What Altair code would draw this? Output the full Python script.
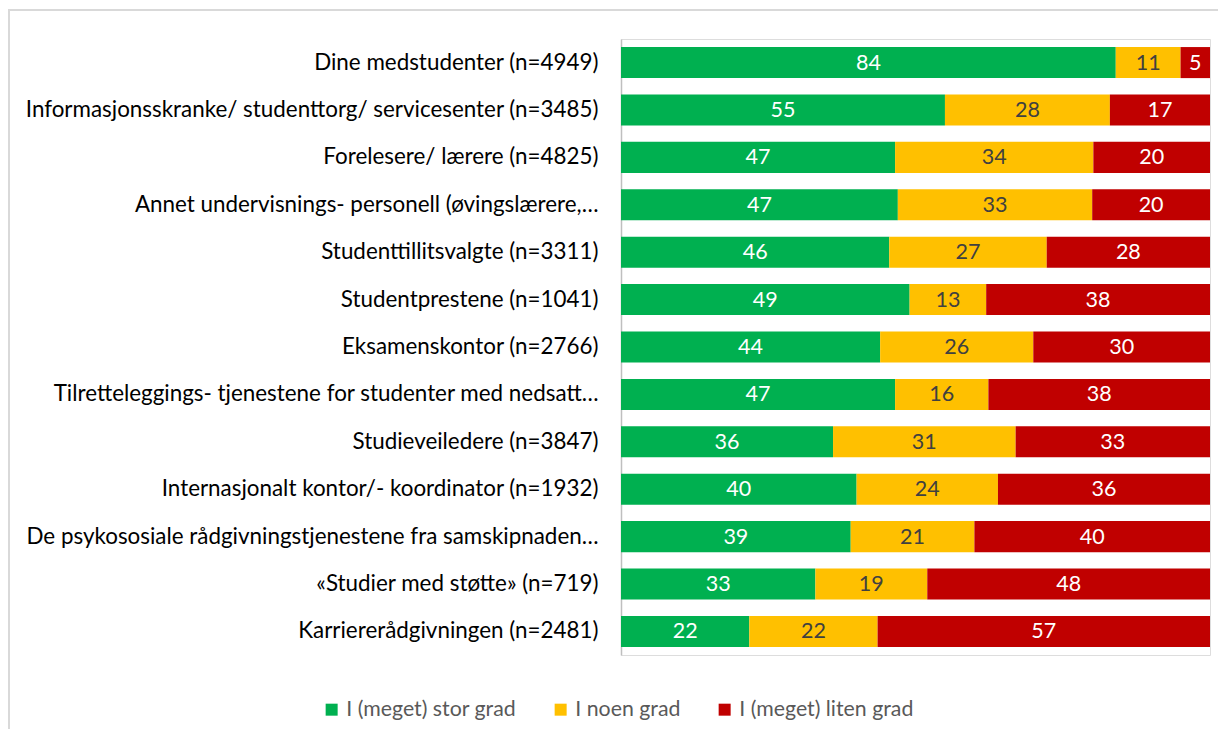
import altair as alt
import pandas as pd

items = [
    "Dine medstudenter (n=4949)",
    "Informasjonsskranke/ studenttorg/ servicesenter (n=3485)",
    "Forelesere/ lærere (n=4825)",
    "Annet undervisnings- personell (øvingslærere,…",
    "Studenttillitsvalgte (n=3311)",
    "Studentprestene (n=1041)",
    "Eksamenskontor (n=2766)",
    "Tilretteleggings- tjenestene for studenter med nedsatt…",
    "Studieveiledere (n=3847)",
    "Internasjonalt kontor/- koordinator (n=1932)",
    "De psykososiale rådgivningstjenestene fra samskipnaden…",
    "«Studier med støtte» (n=719)",
    "Karriererådgivningen (n=2481)",
]
series = ["I (meget) stor grad", "I noen grad", "I (meget) liten grad"]
colors = ["#00B050", "#FFC000", "#C00000"]
stor = [84, 55, 47, 47, 46, 49, 44, 47, 36, 40, 39, 33, 22]
noen = [11, 28, 34, 33, 27, 13, 26, 16, 31, 24, 21, 19, 22]
liten = [5, 17, 20, 20, 28, 38, 30, 38, 33, 36, 40, 48, 57]

rows = []
for i, it in enumerate(items):
    for k, (s, vals) in enumerate(zip(series, [stor, noen, liten])):
        rows.append({"item": it, "series": s, "order": k, "value": vals[i]})
df = pd.DataFrame(rows)

FONT = "Lato"
FS = 21.5

base = alt.Chart(df).transform_stack(
    stack="value", as_=["v1", "v2"], groupby=["item"],
    sort=[alt.SortField("order")], offset="normalize"
).transform_calculate(mid="(datum.v1 + datum.v2) / 2")

yenc = alt.Y("item:N", sort=items, title=None,
             scale=alt.Scale(paddingInner=0.345, paddingOuter=0.17),
             axis=alt.Axis(labelFontSize=22.4, labelFont=FONT, labelColor="#000000",
                           labelLimit=1000, labelPadding=23, ticks=False,
                           domainColor="#BFBFBF", domainWidth=1.5))

bars = base.mark_bar().encode(
    x=alt.X("v1:Q", axis=None, scale=alt.Scale(domain=[0, 1], nice=False)),
    x2="v2:Q",
    y=yenc,
    color=alt.Color("series:N", sort=series,
                    scale=alt.Scale(domain=series, range=colors),
                    legend=alt.Legend(title=None, orient="none", direction="horizontal",
                                      legendX=-300, legendY=660,
                                      symbolType="square", symbolSize=144,
                                      symbolStrokeWidth=0, labelLimit=400,
                                      labelFontSize=21.3, labelFont=FONT,
                                      labelColor="#595959", columnPadding=33,
                                      labelOffset=4)),
)

labels = base.mark_text(fontSize=FS, font=FONT, dy=1).encode(
    x=alt.X("mid:Q"),
    y=alt.Y("item:N", sort=items),
    text=alt.Text("value:Q"),
    color=alt.condition("datum.series == 'I noen grad'",
                        alt.value("#404040"), alt.value("#FFFFFF")),
)

frame = alt.Chart(pd.DataFrame({"a": [0]})).mark_rect(
    fill=None, stroke="#D9D9D9", strokeWidth=2
).encode(x=alt.value(-612), x2=alt.value(640), y=alt.value(-29), y2=alt.value(760))

chart = alt.layer(frame, bars, labels).properties(
    width=589, height=616,
    padding={"left": 613, "top": 31, "right": 8, "bottom": 74},
    autosize=alt.AutoSizeParams(type="none"),
).configure_view(stroke=None).configure(background="white")

chart.save("out.html", embed_options={"renderer": "svg", "actions": False})
